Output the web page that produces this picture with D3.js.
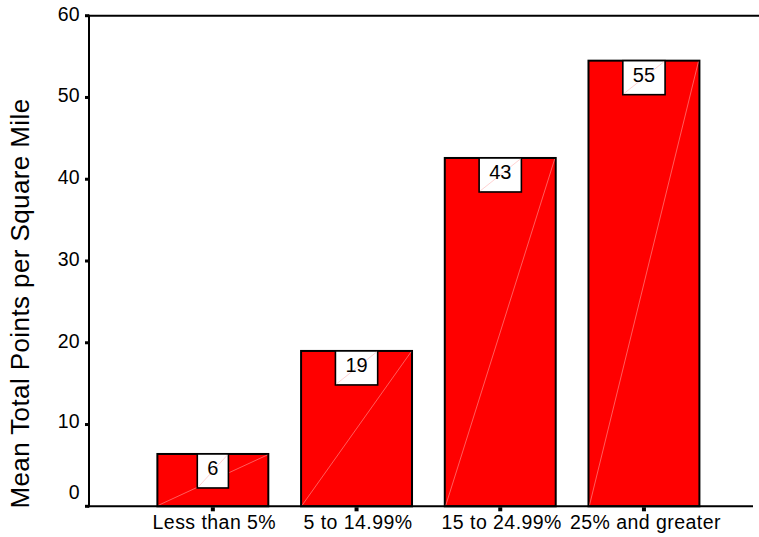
<!DOCTYPE html>
<html>
<head>
<meta charset="utf-8">
<script src="https://cdn.jsdelivr.net/npm/d3@7"></script>
<style>
  html, body { margin: 0; padding: 0; background: #fff; }
  svg { display: block; font-family: Arial, "Liberation Sans", Helvetica, sans-serif; }
</style>
</head>
<body>
<svg id="chart" width="759" height="537"></svg>
<script>
// Mean total points per square mile, by share category
const categories = ["Less than 5%", "5 to 14.99%", "15 to 24.99%", "25% and greater"];
const meanValues = [6.4, 19.0, 42.6, 54.5];
const yTicks = [0, 10, 20, 30, 40, 50, 60];
const yTitle = "Mean Total Points per Square Mile";

const W = 759, H = 537;
const plot = { left: 89, top: 15.7, right: 753, bottom: 506.3 };

const svg = d3.select("#chart");

const x = d3.scaleBand()
  .domain(categories)
  .range([141, 715.8])
  .paddingInner(0.228)
  .paddingOuter(0.114);

const y = d3.scaleLinear()
  .domain([0, 60])
  .range([plot.bottom, plot.top]);

// Bars
const bars = svg.append("g").attr("class", "bars");
bars.selectAll("rect")
  .data(meanValues)
  .join("rect")
  .attr("x", (d, i) => x(categories[i]))
  .attr("y", d => y(d))
  .attr("width", x.bandwidth())
  .attr("height", d => y(0) - y(d))
  .attr("fill", "#ff0000")
  .attr("stroke", "#000")
  .attr("stroke-width", 2);

// faint diagonal sheen across each bar
bars.selectAll("line")
  .data(meanValues)
  .join("line")
  .attr("x1", (d, i) => x(categories[i]) + 1)
  .attr("y1", y(0) - 1)
  .attr("x2", (d, i) => x(categories[i]) + x.bandwidth() - 1)
  .attr("y2", d => y(d) + 1)
  .attr("stroke", "#ff9a9a")
  .attr("stroke-width", 0.6);

// Value boxes at the top of each bar
const labels = svg.append("g").attr("class", "value-labels");
meanValues.forEach((v, i) => {
  const cx = x(categories[i]) + x.bandwidth() / 2;
  const top = y(v);
  const g = labels.append("g");
  const box = g.append("rect");
  const diag = g.append("line");
  const t = g.append("text")
    .attr("x", cx)
    .attr("y", top + 21.5)
    .attr("text-anchor", "middle")
    .attr("font-size", 20)
    .attr("fill", "#000")
    .text(d3.format(".0f")(v));
  const tw = t.node().getComputedTextLength();
  const bw = tw + 20, bh = 34;
  box.attr("x", cx - bw / 2).attr("y", top)
    .attr("width", bw).attr("height", bh)
    .attr("fill", "#fff").attr("stroke", "#000").attr("stroke-width", 1.6);
  diag.attr("x1", cx - bw / 2 + 1).attr("y1", top + bh - 1)
    .attr("x2", cx + bw / 2 - 1).attr("y2", top + 1)
    .attr("stroke", "#ffb4b4").attr("stroke-width", 0.6);
});

// Frame: top border, left axis, bottom axis
svg.append("line")
  .attr("x1", plot.left).attr("x2", W)
  .attr("y1", plot.top).attr("y2", plot.top)
  .attr("stroke", "#000").attr("stroke-width", 2);
svg.append("line")
  .attr("x1", plot.left).attr("x2", plot.left)
  .attr("y1", plot.top - 1).attr("y2", plot.bottom + 1)
  .attr("stroke", "#000").attr("stroke-width", 2);
svg.append("line")
  .attr("x1", plot.left - 2).attr("x2", plot.right)
  .attr("y1", plot.bottom).attr("y2", plot.bottom)
  .attr("stroke", "#000").attr("stroke-width", 2);

// Y ticks (small square marks) and labels
const yAxis = svg.append("g").attr("class", "y-axis");
yAxis.selectAll("rect")
  .data(yTicks)
  .join("rect")
  .attr("x", plot.left - 4)
  .attr("y", d => y(d) - 1.5)
  .attr("width", 4)
  .attr("height", 3)
  .attr("fill", "#000");
yAxis.selectAll("text")
  .data(yTicks)
  .join("text")
  .attr("x", 79.5)
  .attr("y", d => y(d) + (d === 0 ? -7 : d === 10 ? 3 : 5))
  .attr("text-anchor", "end")
  .attr("font-size", 19.5)
  .attr("fill", "#000")
  .text(d => d);

// X ticks (small square marks) and labels
const xAxis = svg.append("g").attr("class", "x-axis");
xAxis.selectAll("rect")
  .data(categories)
  .join("rect")
  .attr("x", d => x(d) + x.bandwidth() / 2 - 2)
  .attr("y", plot.bottom + 1)
  .attr("width", 4)
  .attr("height", 4)
  .attr("fill", "#000");
xAxis.selectAll("text")
  .data(categories)
  .join("text")
  .attr("x", d => x(d) + x.bandwidth() / 2 + 1.5)
  .attr("y", 528.5)
  .attr("text-anchor", "middle")
  .attr("font-size", 19.5)
  .attr("letter-spacing", 0.45)
  .attr("fill", "#000")
  .text(d => d);

// Y axis title
svg.append("text")
  .attr("transform", `translate(28.5, ${(97 + 510) / 2}) rotate(-90)`)
  .attr("text-anchor", "middle")
  .attr("font-size", 26)
  .attr("letter-spacing", 0.4)
  .attr("fill", "#000")
  .text(yTitle);
</script>
</body>
</html>
